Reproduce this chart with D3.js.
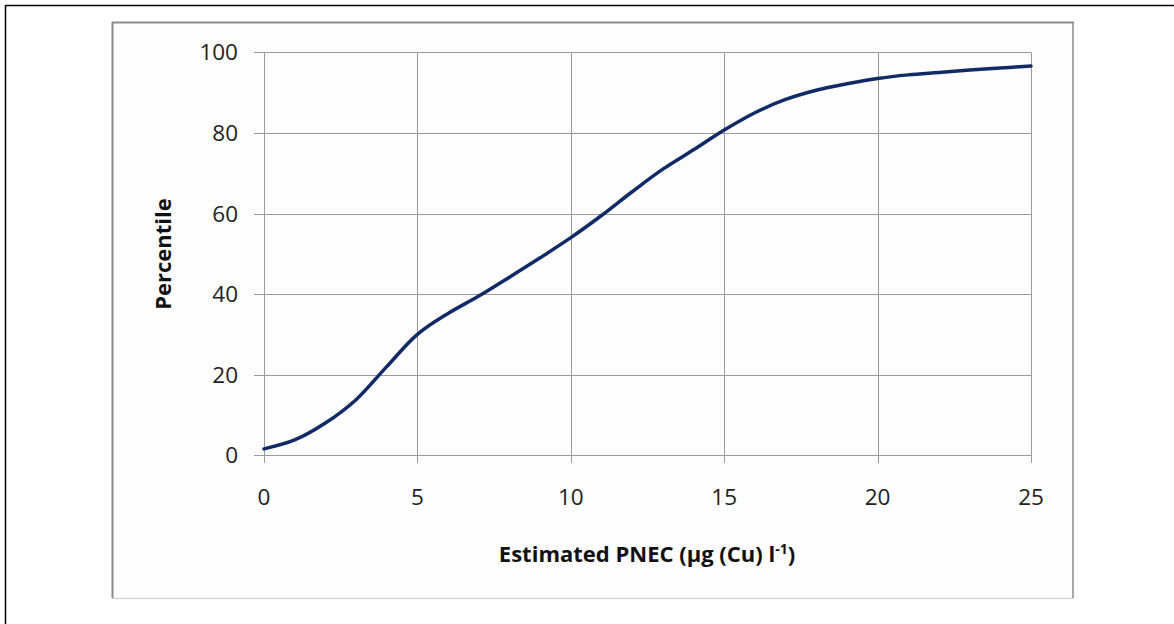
<!DOCTYPE html>
<html><head><meta charset="utf-8">
<script src="https://cdn.jsdelivr.net/npm/d3@7/dist/d3.min.js"></script>
<style>html,body{margin:0;padding:0;background:#fff;}svg{display:block;}</style>
</head><body>
<svg id="c" width="1174" height="624"></svg>
<script>
const pnec = [0, 1, 2, 3, 4, 5, 6, 7, 8, 9, 10, 11, 12, 13, 14, 15, 16, 17, 18, 19, 20, 21, 22, 23, 24, 25];
const percentile = [1.6, 3.8, 8.0, 13.8, 22.0, 30.0, 35.2, 39.5, 44.2, 49.0, 54.0, 59.5, 65.4, 71.0, 75.8, 80.7, 85.0, 88.3, 90.6, 92.2, 93.5, 94.4, 95.0, 95.6, 96.1, 96.6];
const xTicks = [0, 5, 10, 15, 20, 25];
const yTicks = [0, 20, 40, 60, 80, 100];

const svg = d3.select("#c");
const font = "'Open Sans', 'DejaVu Sans', sans-serif";

// outer frame
svg.append("line").attr("x1",5).attr("y1",5.5).attr("x2",1174).attr("y2",5.5).attr("stroke","#000").attr("stroke-width",1.5);
svg.append("line").attr("x1",5.5).attr("y1",5).attr("x2",5.5).attr("y2",624).attr("stroke","#000").attr("stroke-width",1.5);

// chart area frame
svg.append("rect").attr("x",112).attr("y",22).attr("width",961).attr("height",576).attr("fill","#fdfdfd");
svg.append("line").attr("x1",112).attr("y1",598.5).attr("x2",1073).attr("y2",598.5).attr("stroke","#cfcfcf").attr("stroke-width",1);
svg.append("line").attr("x1",112).attr("y1",22.5).attr("x2",1074).attr("y2",22.5).attr("stroke","#8a8a8a").attr("stroke-width",2);
svg.append("line").attr("x1",112.5).attr("y1",22).attr("x2",112.5).attr("y2",598).attr("stroke","#8a8a8a").attr("stroke-width",2);
svg.append("line").attr("x1",1073).attr("y1",22).attr("x2",1073).attr("y2",598).attr("stroke","#8a8a8a").attr("stroke-width",1.5);

const x = d3.scaleLinear().domain([0,25]).range([264,1031]);
const y = d3.scaleLinear().domain([0,100]).range([455.3,52.3]);

const grid = svg.append("g");
yTicks.forEach(t => {
  grid.append("line").attr("x1",254).attr("x2",1031).attr("y1",Math.round(y(t))+0.5).attr("y2",Math.round(y(t))+0.5).attr("stroke","#9a9a9a").attr("stroke-width",1);
});
xTicks.forEach(t => {
  grid.append("line").attr("x1",Math.round(x(t))+0.5).attr("x2",Math.round(x(t))+0.5).attr("y1",y(100)).attr("y2",463).attr("stroke","#9a9a9a").attr("stroke-width",1);
});

// y tick labels
svg.append("g").selectAll("text").data(yTicks).join("text")
  .attr("x",238).attr("y",d=>y(d)).attr("dy","0.36em")
  .attr("text-anchor","end").attr("font-family",font).attr("font-size",22.5).attr("fill","#222")
  .text(d=>d);
// x tick labels
svg.append("g").selectAll("text").data(xTicks).join("text")
  .attr("x",d=>x(d)).attr("y",505)
  .attr("text-anchor","middle").attr("font-family",font).attr("font-size",22.5).attr("fill","#222")
  .text(d=>d);

// line
const data = pnec.map((v,i)=>[v,percentile[i]]);
svg.append("path").datum(data)
  .attr("fill","none").attr("stroke","#102a66").attr("stroke-width",3.5).attr("stroke-linecap","round")
  .attr("d", d3.line().x(d=>x(d[0])).y(d=>y(d[1])).curve(d3.curveCatmullRom.alpha(0.5)));

// axis titles
const xt = svg.append("text").attr("x",647).attr("y",562).attr("text-anchor","middle")
  .attr("font-family",font).attr("font-weight","bold").attr("font-size",22).attr("fill","#111");
xt.append("tspan").text("Estimated PNEC (µg (Cu) l");
xt.append("tspan").attr("dy",-8).attr("font-size",14).text("-1");
xt.append("tspan").attr("dy",8).text(")");

svg.append("text").attr("transform","translate(171,254) rotate(-90)").attr("text-anchor","middle")
  .attr("font-family",font).attr("font-weight","bold").attr("font-size",22).attr("fill","#111")
  .text("Percentile");
</script>
</body></html>
